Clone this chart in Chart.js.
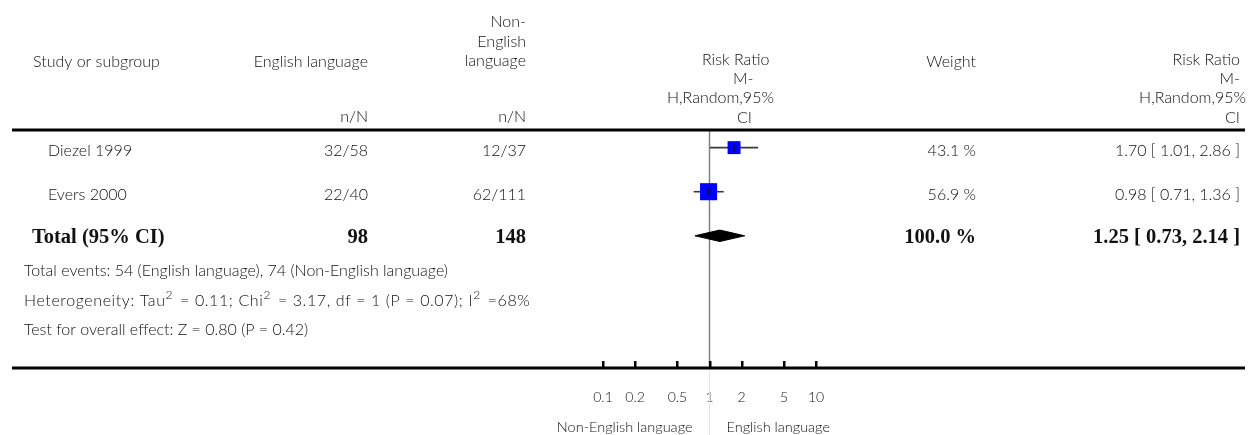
<!DOCTYPE html>
<html><head><meta charset="utf-8">
<script src="https://cdn.jsdelivr.net/npm/chart.js@4"></script>
<style>html,body{margin:0;padding:0;background:#fff;}#wrap{width:1259px;height:435px;position:relative}</style>
</head><body><div id="wrap"><canvas id="c" width="1259" height="435"></canvas></div>
<script>
// ---- data ----
const studies = ['Diezel 1999', 'Evers 2000'];
const engEvents = [32, 22];
const engTotals = [58, 40];
const nonEvents = [12, 62];
const nonTotals = [37, 111];
const weights = [43.1, 56.9];
const rrEst = [1.70, 0.98];
const rrLow = [1.01, 0.71];
const rrHigh = [2.86, 1.36];
const totalLabel = 'Total (95% CI)';
const totalEng = 98;
const totalNon = 148;
const totalWeight = 100.0;
const totalEst = 1.25;
const totalLow = 0.73;
const totalHigh = 2.14;
const tickValues = [0.1, 0.2, 0.5, 1, 2, 5, 10];
const tickLabels = ['0.1', '0.2', '0.5', '1', '2', '5', '10'];
const totalEventsLine = 'Total events: 54 (English language), 74 (Non-English language)';
// heterogeneity line: [text, isSuperscript]
const heterogeneityParts = [
  ['Heterogeneity: Tau', false], ['2', true], [' = 0.11; Chi', false], ['2', true],
  [' = 3.17, df = 1 (P = 0.07); I', false], ['2', true], [' =68%', false]
];
const overallEffectLine = 'Test for overall effect: Z = 0.80 (P = 0.42)';
const axisLabelLeft = 'Non-English language';
const axisLabelRight = 'English language';

// ---- styles ----
const SANS = '"Lato", "Open Sans", sans-serif';
const SERIF = '"Liberation Serif", "DejaVu Serif", serif';
const TXT = '#111';
const sansFont = (s) => '300 ' + s + 'px ' + SANS;
const boldFont = (s) => 'bold ' + s + 'px ' + SERIF;
const fmt = (v) => v.toFixed(2);
const rowOf = (i) => i + 1;
const totalRow = studies.length + 1;
const diamondHalf = 0.13;

const datasets = [];
studies.forEach((s, i) => {
  datasets.push({ type: 'scatter', showLine: true, data: [{x: rrLow[i], y: rowOf(i)}, {x: rrHigh[i], y: rowOf(i)}],
    borderColor: '#3a3a3a', borderWidth: 1.6, pointRadius: 0, order: 3 });
});
datasets.push({ type: 'scatter', data: studies.map((s, i) => ({x: rrEst[i], y: rowOf(i)})),
  pointStyle: 'rect', pointRadius: weights.map(w => w * 0.3 / Math.SQRT2), backgroundColor: '#0000ff', borderWidth: 0, order: 2 });
datasets.push({ type: 'scatter', data: studies.map((s, i) => ({x: rrEst[i], y: rowOf(i)})),
  pointStyle: 'line', rotation: 90, pointRadius: 3, borderColor: '#111', borderWidth: 1.5, order: 1 });
datasets.push({ type: 'scatter', showLine: true, fill: 'shape',
  data: [{x: totalLow, y: totalRow}, {x: totalEst, y: totalRow - diamondHalf}, {x: totalHigh, y: totalRow}, {x: totalEst, y: totalRow + diamondHalf}, {x: totalLow, y: totalRow}],
  backgroundColor: '#000', borderColor: '#000', borderWidth: 1, pointRadius: 0, tension: 0, order: 2 });

const forestPlugin = {
  id: 'forest',
  beforeDatasetsDraw(chart) {
    const ctx = chart.ctx, xs = chart.scales.x;
    const x1 = xs.getPixelForValue(1);
    ctx.save();
    ctx.strokeStyle = '#e4e4e4'; ctx.lineWidth = 1;
    ctx.beginPath(); ctx.moveTo(x1, chart.chartArea.bottom); ctx.lineTo(x1, 435); ctx.stroke();
    ctx.strokeStyle = '#808080'; ctx.lineWidth = 1.5;
    ctx.beginPath(); ctx.moveTo(x1, chart.chartArea.top); ctx.lineTo(x1, chart.chartArea.bottom); ctx.stroke();
    ctx.restore();
  },
  afterDraw(chart) {
    const ctx = chart.ctx, xs = chart.scales.x, ys = chart.scales.y;
    const ca = chart.chartArea;
    ctx.save();
    ctx.fillStyle = '#000';
    ctx.fillRect(12, ca.top - 1.5, 1233, 3);
    ctx.fillRect(12, ca.bottom - 1.5, 1233, 3);
    tickValues.forEach(v => {
      const px = xs.getPixelForValue(v);
      ctx.fillRect(Math.round(px) - 1, ca.bottom - 7, 2.5, 7);
    });
    ctx.textBaseline = 'middle';
    const t = (s, x, y, align, font) => { ctx.font = font; ctx.textAlign = align; ctx.fillStyle = TXT; ctx.fillText(s, x, y); };
    const f = sansFont(16);
    // header
    t('Study or subgroup', 33, 62, 'left', f);
    t('English language', 368, 62, 'right', f);
    t('n/N', 368, 117, 'right', f);
    t('Non-', 526, 22, 'right', f);
    t('English', 526, 42, 'right', f);
    t('language', 526, 61, 'right', f);
    t('n/N', 526, 117, 'right', f);
    t('Risk Ratio', 702, 60, 'left', f);
    t('M-', 733, 79, 'left', f);
    t('H,Random,95%', 667, 98, 'left', f);
    t('CI', 737, 118, 'left', f);
    t('Weight', 976, 62, 'right', f);
    t('Risk Ratio', 1240, 60, 'right', f);
    t('M-', 1240, 79, 'right', f);
    t('H,Random,95%', 1246, 98, 'right', f);
    t('CI', 1240, 118, 'right', f);
    // study rows
    studies.forEach((s, i) => {
      const y = ys.getPixelForValue(rowOf(i)) + 3;
      t(s, 48, y, 'left', f);
      t(engEvents[i] + '/' + engTotals[i], 368, y, 'right', f);
      t(nonEvents[i] + '/' + nonTotals[i], 526, y, 'right', f);
      t(weights[i].toFixed(1) + ' %', 976, y, 'right', f);
      t(fmt(rrEst[i]) + ' [ ' + fmt(rrLow[i]) + ', ' + fmt(rrHigh[i]) + ' ]', 1240, y, 'right', f);
    });
    // total row
    const yt = ys.getPixelForValue(totalRow) + 2;
    const fb = boldFont(20.5);
    t(totalLabel, 32, yt, 'left', fb);
    t(String(totalEng), 368, yt, 'right', fb);
    t(String(totalNon), 526, yt, 'right', fb);
    t(totalWeight.toFixed(1) + ' %', 976, yt, 'right', fb);
    t(fmt(totalEst) + ' [ ' + fmt(totalLow) + ', ' + fmt(totalHigh) + ' ]', 1240, yt, 'right', fb);
    // footer
    t(totalEventsLine, 24, 271, 'left', f);
    let hx = 24;
    ctx.letterSpacing = '0.6px';
    heterogeneityParts.forEach(([s, sup]) => {
      const font = sup ? sansFont(12) : f;
      ctx.font = font;
      t(s, hx, sup ? 295 : 301, 'left', font);
      hx += ctx.measureText(s).width + (sup ? 2 : 0);
    });
    ctx.letterSpacing = '0px';
    t(overallEffectLine, 24, 330, 'left', f);
    // axis labels
    const x1 = xs.getPixelForValue(1);
    t(axisLabelLeft, x1 - 17, 427, 'right', sansFont(14.5));
    t(axisLabelRight, x1 + 17, 427, 'left', sansFont(14.5));
    ctx.restore();
  }
};

new Chart(document.getElementById('c'), {
  type: 'scatter',
  data: { datasets },
  options: {
    responsive: false, animation: false, events: [],
    layout: { padding: { left: 603, right: 443, top: 130, bottom: 0 } },
    plugins: { legend: { display: false }, tooltip: { enabled: false } },
    scales: {
      x: {
        type: 'logarithmic', min: 0.1, max: 10,
        afterBuildTicks: (s) => { s.ticks = tickValues.map(v => ({ value: v })); },
        afterFit: (s) => { s.height = 67; },
        grid: { display: false, drawTicks: false }, border: { display: false },
        ticks: { autoSkip: false, maxRotation: 0, padding: 21, color: TXT, font: { family: SANS, size: 14, weight: '300' },
          callback: (v, i) => tickLabels[i] }
      },
      y: { type: 'linear', min: 0.6, max: 6, reverse: true, display: false }
    },
    clip: false
  },
  plugins: [forestPlugin]
});
</script></body></html>
